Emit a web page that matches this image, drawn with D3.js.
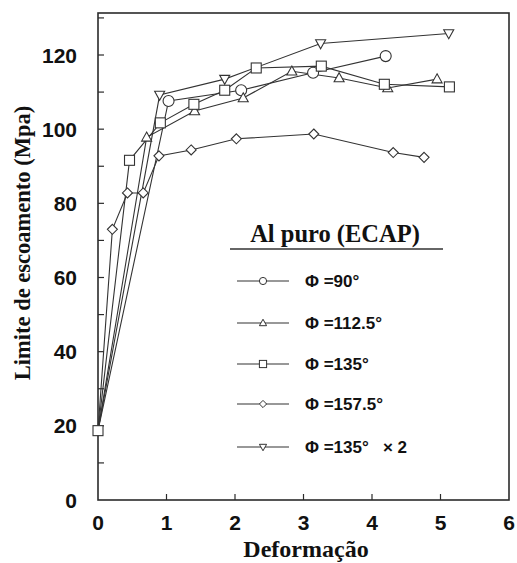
<!DOCTYPE html>
<html>
<head>
<meta charset="utf-8">
<script src="https://cdn.jsdelivr.net/npm/d3@7"></script>
<style>
  body { margin: 0; background: #fff; }
  svg { display: block; }
</style>
</head>
<body>
<svg id="chart" width="517" height="563"></svg>
<script>
// strain values and yield stress (MPa)
const phi90X = [0, 1.03, 2.09, 3.14, 4.20]
const phi90Y = [18.7, 107.6, 110.5, 115.2, 119.7]

const phi112X = [0, 0.71, 1.41, 2.12, 2.83, 3.52, 4.23, 4.95]
const phi112Y = [18.7, 97.8, 104.9, 108.4, 115.6, 113.8, 111.1, 113.5]

const phi135X = [0, 0.46, 0.91, 1.40, 1.85, 2.31, 3.26, 4.18, 5.13]
const phi135Y = [18.7, 91.6, 101.7, 106.7, 110.5, 116.5, 117.0, 112.1, 111.4]

const phi157X = [0, 0.21, 0.43, 0.66, 0.89, 1.36, 2.02, 3.15, 4.31, 4.76]
const phi157Y = [18.7, 73.0, 82.8, 82.8, 92.8, 94.4, 97.4, 98.7, 93.7, 92.4]

const phi135x2X = [0, 0.90, 1.85, 3.25, 5.12]
const phi135x2Y = [18.7, 109.2, 113.5, 123.1, 125.8]

const seriesNames = ['Φ =90°', 'Φ =112.5°', 'Φ =135°', 'Φ =157.5°', 'Φ =135°   × 2']
const seriesSymbols = ['circle', 'triangle', 'square', 'diamond', 'invtriangle']
const xTicks = [0, 1, 2, 3, 4, 5, 6]
const yTicks = [0, 20, 40, 60, 80, 100, 120]
const yMinor = [10, 30, 50, 70, 90, 110, 130]

const series = [
  [phi90X, phi90Y], [phi112X, phi112Y], [phi135X, phi135Y],
  [phi157X, phi157Y], [phi135x2X, phi135x2Y]
].map((s, i) => ({
  name: seriesNames[i],
  sym: seriesSymbols[i],
  pts: s[0].map((x, j) => ({ x: x, y: s[1][j] }))
}))

const svg = d3.select('#chart')
const frame = { left: 98, right: 509, top: 13, bottom: 500 }
const ink = '#2b2b2b'

const x = d3.scaleLinear().domain([0, 6]).range([frame.left, frame.right])
const y = d3.scaleLinear().domain([0, 120]).range([frame.bottom, 55])

// marker shapes (sz ~ half width)
function marker(sel, sym, sz) {
  if (sym === 'circle') {
    sel.append('circle').attr('r', sz)
  } else if (sym === 'square') {
    sel.append('rect').attr('x', -sz).attr('y', -sz).attr('width', 2 * sz).attr('height', 2 * sz)
  } else if (sym === 'triangle') {
    sel.append('path').attr('d', `M0,${-sz * 1.05}L${sz},${sz * 0.75}L${-sz},${sz * 0.75}Z`)
  } else if (sym === 'invtriangle') {
    sel.append('path').attr('d', `M0,${sz * 1.05}L${sz},${-sz * 0.75}L${-sz},${-sz * 0.75}Z`)
  } else if (sym === 'diamond') {
    sel.append('path').attr('d', `M0,${-sz}L${sz},0L0,${sz}L${-sz},0Z`)
  }
}

// frame
svg.append('rect')
  .attr('x', frame.left).attr('y', frame.top)
  .attr('width', frame.right - frame.left).attr('height', frame.bottom - frame.top)
  .attr('fill', 'none').attr('stroke', ink).attr('stroke-width', 1.6)

// inward ticks
svg.append('g').selectAll('line.yt')
  .data(yTicks.concat(yMinor).filter(v => y(v) > frame.top + 2 && v > 0))
  .enter().append('line')
  .attr('x1', frame.left).attr('x2', frame.left + 6)
  .attr('y1', d => y(d)).attr('y2', d => y(d))
  .attr('stroke', ink).attr('stroke-width', 1.2)

svg.append('g').selectAll('line.xt')
  .data(xTicks.filter(v => v > 0 && v < 6))
  .enter().append('line')
  .attr('x1', d => x(d)).attr('x2', d => x(d))
  .attr('y1', frame.bottom).attr('y2', frame.bottom - 6)
  .attr('stroke', ink).attr('stroke-width', 1.2)

// tick labels
const tickFont = "'Liberation Sans', Arial, sans-serif"
svg.append('g').selectAll('text')
  .data(yTicks).enter().append('text')
  .attr('x', 77).attr('y', d => y(d))
  .attr('dy', '0.36em')
  .attr('text-anchor', 'end')
  .attr('font-family', tickFont).attr('font-weight', 'bold').attr('font-size', 21)
  .attr('fill', '#111')
  .text(d => d)

svg.append('g').selectAll('text')
  .data(xTicks).enter().append('text')
  .attr('x', d => x(d)).attr('y', 530)
  .attr('text-anchor', 'middle')
  .attr('font-family', tickFont).attr('font-weight', 'bold').attr('font-size', 21)
  .attr('fill', '#111')
  .text(d => d)

// axis titles
const serif = "'Liberation Serif', 'Times New Roman', serif"
svg.append('text')
  .attr('x', 306).attr('y', 557)
  .attr('text-anchor', 'middle')
  .attr('font-family', serif).attr('font-weight', 'bold').attr('font-size', 24)
  .attr('fill', '#111')
  .text('Deformação')

svg.append('text')
  .attr('transform', 'translate(30, 243) rotate(-90)')
  .attr('text-anchor', 'middle')
  .attr('font-family', serif).attr('font-weight', 'bold').attr('font-size', 22.5)
  .attr('fill', '#111')
  .text('Limite de escoamento (Mpa)')

// series lines + markers
const line = d3.line().x(d => x(d.x)).y(d => y(d.y))
const plot = svg.append('g')

series.forEach(s => {
  plot.append('path')
    .datum(s.pts)
    .attr('d', line)
    .attr('fill', 'none').attr('stroke', '#333').attr('stroke-width', 1.1)
})

// the shared starting point only shows the square marker
series.forEach(s => {
  plot.append('g').selectAll('g')
    .data(s.pts.filter(p => p.x > 0 || s.sym === 'square')).enter().append('g')
    .attr('transform', d => `translate(${x(d.x)},${y(d.y)})`)
    .each(function() { marker(d3.select(this), s.sym, s.sym === 'circle' ? 5.5 : 5) })
    .selectAll('*')
    .attr('fill', '#fff').attr('stroke', '#333').attr('stroke-width', 1.1)
})

// legend
const lg = svg.append('g')
lg.append('text')
  .attr('x', 335).attr('y', 242)
  .attr('text-anchor', 'middle')
  .attr('font-family', serif).attr('font-weight', 'bold').attr('font-size', 24.5)
  .attr('fill', '#111')
  .text('Al puro (ECAP)')
lg.append('line')
  .attr('x1', 230).attr('x2', 443).attr('y1', 249).attr('y2', 249)
  .attr('stroke', '#333').attr('stroke-width', 1.5)

const rowY = [281, 323, 364, 404, 447]
series.forEach((s, i) => {
  const r = lg.append('g').attr('transform', `translate(0, ${rowY[i]})`)
  r.append('line').attr('x1', 237).attr('x2', 289).attr('y1', 0).attr('y2', 0)
    .attr('stroke', '#333').attr('stroke-width', 1.1)
  const m = r.append('g').attr('transform', 'translate(263,0)')
  marker(m, s.sym, 3.6)
  m.selectAll('*').attr('fill', '#fff').attr('stroke', '#333').attr('stroke-width', 1)
  r.append('text')
    .attr('x', 305).attr('y', 0).attr('dy', '0.36em')
    .attr('font-family', tickFont).attr('font-weight', 'bold').attr('font-size', 17)
    .attr('fill', '#111')
    .attr('xml:space', 'preserve')
    .style('white-space', 'pre')
    .text(s.name)
})
</script>
</body>
</html>
